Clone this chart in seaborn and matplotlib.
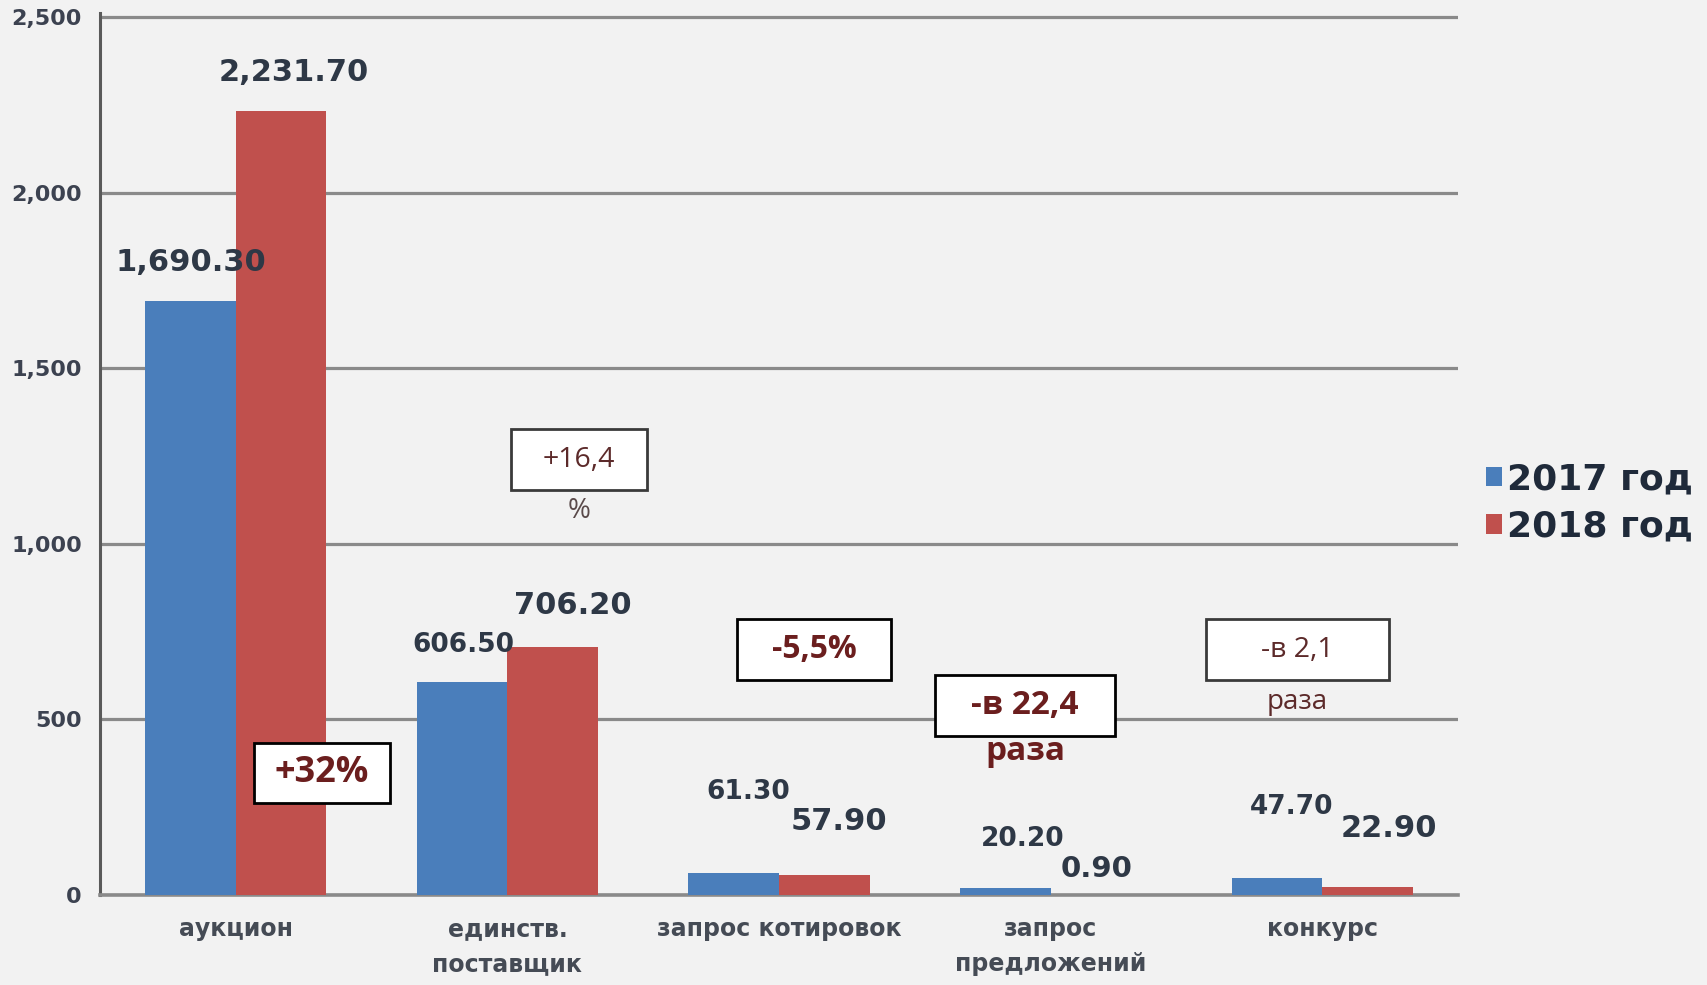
import matplotlib
matplotlib.use("Agg")
import matplotlib.pyplot as plt
import seaborn as sns
import pandas as pd
from matplotlib.patches import Rectangle, Patch
from matplotlib.ticker import FuncFormatter

# ---------------- data ----------------
categories = ["аукцион", "единств.\nпоставщик", "запрос котировок",
              "запрос\nпредложений", "конкурс"]
years = ["2017 год", "2018 год"]
values_2017 = [1690.30, 606.50, 61.30, 20.20, 47.70]
values_2018 = [2231.70, 706.20, 57.90, 0.90, 22.90]
y_ticks = [0, 500, 1000, 1500, 2000, 2500]
change_labels = ["+32%", "+16,4", "-5,5%", "-в 22,4", "-в 2,1"]
change_suffix = ["", "%", "", "раза", "раза"]

df = pd.DataFrame({
    "cat": categories * 2,
    "year": [years[0]] * len(categories) + [years[1]] * len(categories),
    "value": values_2017 + values_2018,
})

# ---------------- style ----------------
BG = "#f2f2f2"
sns.set_style("white", rc={"axes.facecolor": BG, "figure.facecolor": BG})
plt.rcParams["font.family"] = ["DejaVu Sans"]

colors = ["#4a7ebb", "#c0504d"]
label_col = "#2e3846"

fig = plt.figure(figsize=(17.08, 9.85), dpi=100)
ax = fig.add_axes([100 / 1708, 90 / 985, 1358 / 1708, 1 - 13.5 / 985 - 90 / 985])

sns.barplot(data=df, x="cat", y="value", hue="year", palette=colors,
            width=0.667, saturation=1, ax=ax, legend=False, zorder=3,
            edgecolor="none", linewidth=0)

ax.set_xlim(-0.5, len(categories) - 0.5)
ax.set_ylim(0, 2510)
ax.set_yticks(y_ticks)
ax.yaxis.set_major_formatter(FuncFormatter(lambda v, p: f"{v:,.0f}"))
ax.set_xlabel("")
ax.set_ylabel("")

# grid
ax.grid(axis="y", color="#8a8a8a", linewidth=2.3, zorder=0)
ax.grid(axis="x", visible=False)
ax.set_axisbelow(True)
for s in ["top", "right"]:
    ax.spines[s].set_visible(False)
ax.spines["left"].set_color("#5a5a5a")
ax.spines["left"].set_linewidth(2.2)
ax.spines["bottom"].set_color("#8a8a8a")
ax.spines["bottom"].set_linewidth(2.6)

# ticks
ax.tick_params(axis="y", length=7, width=1.8, color="#5a5a5a", pad=6,
               labelsize=16, labelcolor="#3c4250")
for t in ax.get_yticklabels():
    t.set_fontweight("bold")
ax.set_xticks(range(len(categories)))
ax.set_xticklabels(categories, fontsize=17, fontweight="bold",
                   color="#454b55", linespacing=1.55, va="top")
ax.tick_params(axis="x", which="major", length=0, pad=16)
ax.set_xticks([i - 0.5 for i in range(len(categories) + 1)], minor=True)
ax.tick_params(axis="x", which="minor", length=8, width=1.8, color="#6a6a6a")

# data labels
lab_size_2017 = [22, 19, 19, 19, 19]
lab_size_2018 = [22, 22, 22, 21, 22]
off_2017 = [(0, 39), (1, 37), (15, 81), (17, 49), (15, 71)]
off_2018 = [(13, 39), (20, 41), (15, 53), (1, 26), (21, 58)]
for cont, sizes, offs in [(ax.containers[0], lab_size_2017, off_2017),
                          (ax.containers[1], lab_size_2018, off_2018)]:
    for bar, fs, (dx, dy) in zip(cont.patches, sizes, offs):
        h = bar.get_height()
        ax.annotate(f"{h:,.2f}", xy=(bar.get_x() + bar.get_width() / 2, h),
                    xytext=(dx, dy), textcoords="offset pixels",
                    ha="center", va="center", fontsize=fs, fontweight="bold",
                    color=label_col, zorder=6)

# change boxes
box_geom = [  # x0, x1, y0, y1 (data units)
    (0.067, 0.568, 262, 433),
    (1.013, 1.514, 1153, 1327),
    (1.845, 2.412, 612, 786),
    (2.574, 3.237, 453, 626),
    (3.572, 4.246, 612, 786),
]
box_style = [  # fontsize, weight, text colour, edge colour
    (26, "bold", "#6b1e1e", "#000000"),
    (20.5, "normal", "#5c2a2a", "#3a3a3a"),
    (23, "bold", "#6b1e1e", "#000000"),
    (24, "bold", "#6b1e1e", "#000000"),
    (20.5, "normal", "#5c2a2a", "#3a3a3a"),
]
suffix_pos = [None, (1.264, 1093), None, (2.906, 410), (3.909, 550)]
suffix_style = [None, (20, "normal", "#5a4a4a"), None,
                (24, "bold", "#6b1e1e"), (20, "normal", "#5c2a2a")]
for lab, suf, (x0, x1, y0, y1), (fs, fw, tc, ec), sp, ss in zip(
        change_labels, change_suffix, box_geom, box_style, suffix_pos, suffix_style):
    ax.add_patch(Rectangle((x0, y0), x1 - x0, y1 - y0, facecolor="white",
                           edgecolor=ec, linewidth=2.0, zorder=7))
    ax.text((x0 + x1) / 2, (y0 + y1) / 2, lab, ha="center", va="center",
            fontsize=fs, fontweight=fw, color=tc, family="Open Sans", zorder=8)
    if suf:
        ax.text(sp[0], sp[1], suf, ha="center", va="center", fontsize=ss[0],
                fontweight=ss[1], color=ss[2], family="Open Sans", zorder=8)

# legend
handles = [Patch(facecolor=c, edgecolor="none") for c in colors]
leg = fig.legend(handles, years, loc="center left",
                 bbox_to_anchor=(1486 / 1708, 1 - 503 / 985),
                 frameon=False, fontsize=26, handlelength=0.45,
                 handleheight=0.45, handletextpad=0.12, labelspacing=0.38,
                 borderpad=0, borderaxespad=0)
for t in leg.get_texts():
    t.set_fontweight("bold")
    t.set_color("#1f2a3a")

fig.savefig("out.png", dpi=100, facecolor=BG)
